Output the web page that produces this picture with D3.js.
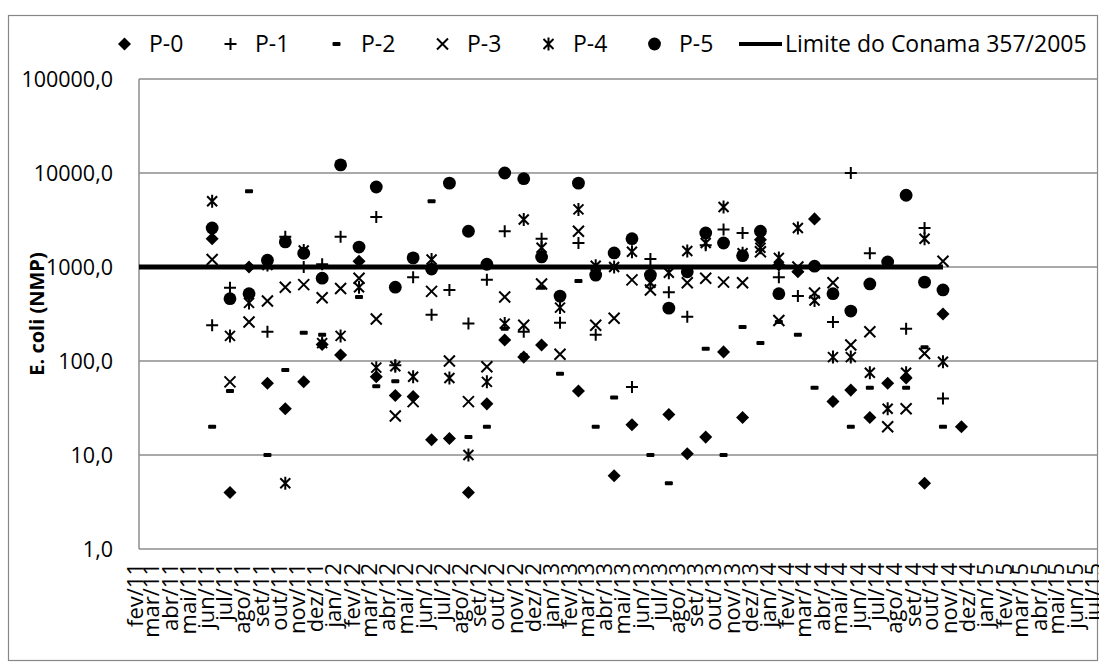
<!DOCTYPE html>
<html>
<head>
<meta charset="utf-8">
<script src="https://cdn.jsdelivr.net/npm/d3@7"></script>
<style>
  body { margin: 0; background: #fff; }
  svg { font-family: "Open Sans", "Noto Sans", sans-serif; }
</style>
</head>
<body>
<svg width="1099" height="662"></svg>
<script>
// axis month labels (category ticks)
const months = ["fev/11","mar/11","abr/11","mai/11","jun/11","jul/11","ago/11","set/11","out/11","nov/11","dez/11",
  "jan/12","fev/12","mar/12","abr/12","mai/12","jun/12","jul/12","ago/12","set/12","out/12","nov/12","dez/12",
  "jan/13","fev/13","mar/13","abr/13","mai/13","jun/13","jul/13","ago/13","set/13","out/13","nov/13","dez/13",
  "jan/14","fev/14","mar/14","abr/14","mai/14","jun/14","jul/14","ago/14","set/14","out/14","nov/14","dez/14",
  "jan/15","fev/15","mar/15","abr/15","mai/15","jun/15","jul/15"];

// sampling dates
const sampleDates = ["2011-06-04","2011-07-04","2011-08-05","2011-09-05","2011-10-05","2011-11-05","2011-12-06",
  "2012-01-06","2012-02-06","2012-03-06","2012-04-07","2012-05-07","2012-06-07","2012-07-07","2012-08-08","2012-09-08",
  "2012-10-08","2012-11-09","2012-12-09","2013-01-09","2013-02-09","2013-03-10","2013-04-10","2013-05-10","2013-06-10",
  "2013-07-11","2013-08-11","2013-09-11","2013-10-11","2013-11-12","2013-12-12","2014-01-12","2014-02-13","2014-03-13",
  "2014-04-13","2014-05-13","2014-06-14","2014-07-14","2014-08-14","2014-09-14","2014-10-15","2014-11-15"];

const p0 = [2000,4,1000,58,31,60,150,116,1150,68,43,42,14.5,15,4,35,167,110,148,null,48,null,6,21,null,27,10.3,15.5,125,25,1950,1050,890,3250,37,49,25,58,66,5,316,20];
const p1 = [240,600,null,205,2100,1000,1070,2100,null,3400,90,780,310,570,250,730,2400,205,2000,255,1800,190,null,53,1220,540,295,1700,2500,2300,null,780,490,null,260,10000,1400,null,220,2600,40,null];
const p2 = [20,48,6400,10,80,200,190,null,480,54,61,42,5000,null,15.5,20,220,115,600,73,710,20,41,null,10,5,null,135,10,230,155,260,190,52,38,20,52,null,52,140,20,null];
const p3 = [1200,60,260,435,610,650,470,590,760,280,26,37,550,100,37,87,480,240,660,118,2400,240,285,730,570,null,680,760,690,680,1450,270,1000,530,680,148,205,20,31,120,1150,null];
const p4 = [5000,185,415,1050,5,1500,155,185,610,85,88,68,1200,66,10,60,250,3200,1600,370,4100,1030,1000,1450,680,870,1480,1800,4350,1400,1600,1250,2600,440,110,110,75,31,75,2000,98,null];
const p5 = [2600,460,520,1180,1850,1400,760,12200,1630,7100,610,1250,950,7800,2400,1070,10000,8700,1280,490,7800,820,1410,2000,820,365,890,2300,1800,1320,2400,520,null,1020,520,340,660,1130,5800,690,570,null];

// Limite do Conama 357/2005
const limitDates = ["2011-02-01", "2014-10-15"];
const limitValues = [1000, 1000];

const seriesNames = ["P-0","P-1","P-2","P-3","P-4","P-5"];
const seriesValues = [p0, p1, p2, p3, p4, p5];
const yTicks = [1, 10, 100, 1000, 10000, 100000];

const svg = d3.select("svg");
const parse = d3.timeParse("%Y-%m-%d");
const plot = { left: 139, right: 1097, top: 79, bottom: 549 };

const firstMonth = parse("2011-02-01");
const monthDates = months.map((m, i) => d3.timeMonth.offset(firstMonth, i));

const x = d3.scaleTime()
  .domain([monthDates[0], monthDates[monthDates.length - 1]])
  .range([plot.left, plot.right]);
const y = d3.scaleLog().domain([1, 100000]).range([plot.bottom, plot.top]);

// outer frame
svg.append("rect")
  .attr("x", 8.5).attr("y", 15.5)
  .attr("width", 1089).attr("height", 645)
  .attr("fill", "none").attr("stroke", "#878787").attr("stroke-width", 1.2);

// gridlines
svg.append("g")
  .selectAll("line")
  .data(yTicks.slice(1))
  .join("line")
  .attr("x1", plot.left).attr("x2", plot.right)
  .attr("y1", (d) => y(d)).attr("y2", (d) => y(d))
  .attr("stroke", "#8c8c8c").attr("stroke-width", 1.5);

// axis lines
svg.append("line")
  .attr("x1", plot.left).attr("x2", plot.left)
  .attr("y1", plot.top).attr("y2", plot.bottom)
  .attr("stroke", "#8c8c8c").attr("stroke-width", 1.5);
svg.append("line")
  .attr("x1", plot.left).attr("x2", plot.right)
  .attr("y1", plot.bottom).attr("y2", plot.bottom)
  .attr("stroke", "#8c8c8c").attr("stroke-width", 1.5);

// y tick labels
svg.append("g")
  .selectAll("text")
  .data(yTicks)
  .join("text")
  .attr("x", 113)
  .attr("y", (d) => y(d))
  .attr("dy", "0.35em")
  .attr("text-anchor", "end")
  .attr("font-size", "21.5px")
  .text((d) => d3.format(".1f")(d).replace(".", ","));

// x tick labels
svg.append("g")
  .selectAll("text")
  .data(months)
  .join("text")
  .attr("transform", (d, i) => `translate(${x(monthDates[i]) - 4},563) rotate(-90)`)
  .attr("text-anchor", "end")
  .attr("dy", "0.35em")
  .attr("font-size", "22px")
  .text((d) => d);

// y axis title
svg.append("text")
  .attr("transform", `translate(37,${(plot.top + plot.bottom) / 2}) rotate(-90)`)
  .attr("text-anchor", "middle")
  .attr("dy", "0.35em")
  .attr("font-size", "20px")
  .attr("font-weight", "bold")
  .text("E. coli (NMP)");

// marker shapes
function drawMarker(g, i) {
  if (i === 0) {
    g.append("path").attr("d", d3.symbol(d3.symbolSquare, 85)())
      .attr("transform", "rotate(45)").attr("fill", "#000");
  } else if (i === 1) {
    g.append("path").attr("d", "M-6,0H6M0,-6V6")
      .attr("stroke", "#000").attr("stroke-width", 2);
  } else if (i === 2) {
    g.append("rect").attr("x", -4).attr("y", -2).attr("width", 8).attr("height", 4)
      .attr("rx", 1).attr("fill", "#000");
  } else if (i === 3) {
    g.append("path").attr("d", "M-5.5,-5.5L5.5,5.5M-5.5,5.5L5.5,-5.5")
      .attr("stroke", "#000").attr("stroke-width", 2);
  } else if (i === 4) {
    g.append("path").attr("d", "M-5,-5L5,5M-5,5L5,-5M0,-6.5V6.5")
      .attr("stroke", "#000").attr("stroke-width", 2);
  } else {
    g.append("circle").attr("r", 6.4).attr("fill", "#000");
  }
}

// points
seriesValues.forEach((vals, si) => {
  const pts = vals.map((v, k) => ({ date: parse(sampleDates[k]), v: v })).filter((d) => d.v != null);
  const g = svg.append("g").attr("class", "series-" + si);
  g.selectAll("g")
    .data(pts)
    .join("g")
    .attr("transform", (d) => `translate(${x(d.date)},${y(d.v)})`)
    .each(function () { drawMarker(d3.select(this), si); });
});

// limit line
const limitData = limitDates.map((d, i) => ({ date: parse(d), v: limitValues[i] }));
svg.append("path")
  .datum(limitData)
  .attr("d", d3.line().x((d) => x(d.date)).y((d) => y(d.v)))
  .attr("stroke", "#000").attr("stroke-width", 5).attr("fill", "none");

// legend: sample box of 43px, marker centred, text after it
const legendY = 44;
const legendStart = 103;
const legendPitch = 106;
const legend = svg.append("g");
seriesNames.forEach((name, i) => {
  const sx = legendStart + i * legendPitch;
  const g = legend.append("g").attr("transform", `translate(${sx + 21.5},${legendY})`);
  drawMarker(g, i);
  legend.append("text")
    .attr("x", sx + 46).attr("y", legendY)
    .attr("dy", "0.35em")
    .attr("font-size", "23px")
    .text(name);
});
const lineX = legendStart + 6 * legendPitch;
legend.append("line")
  .attr("x1", lineX).attr("x2", lineX + 43)
  .attr("y1", legendY).attr("y2", legendY)
  .attr("stroke", "#000").attr("stroke-width", 4);
legend.append("text")
  .attr("x", lineX + 46).attr("y", legendY)
  .attr("dy", "0.35em")
  .attr("font-size", "23px")
  .text("Limite do Conama 357/2005");
</script>
</body>
</html>
